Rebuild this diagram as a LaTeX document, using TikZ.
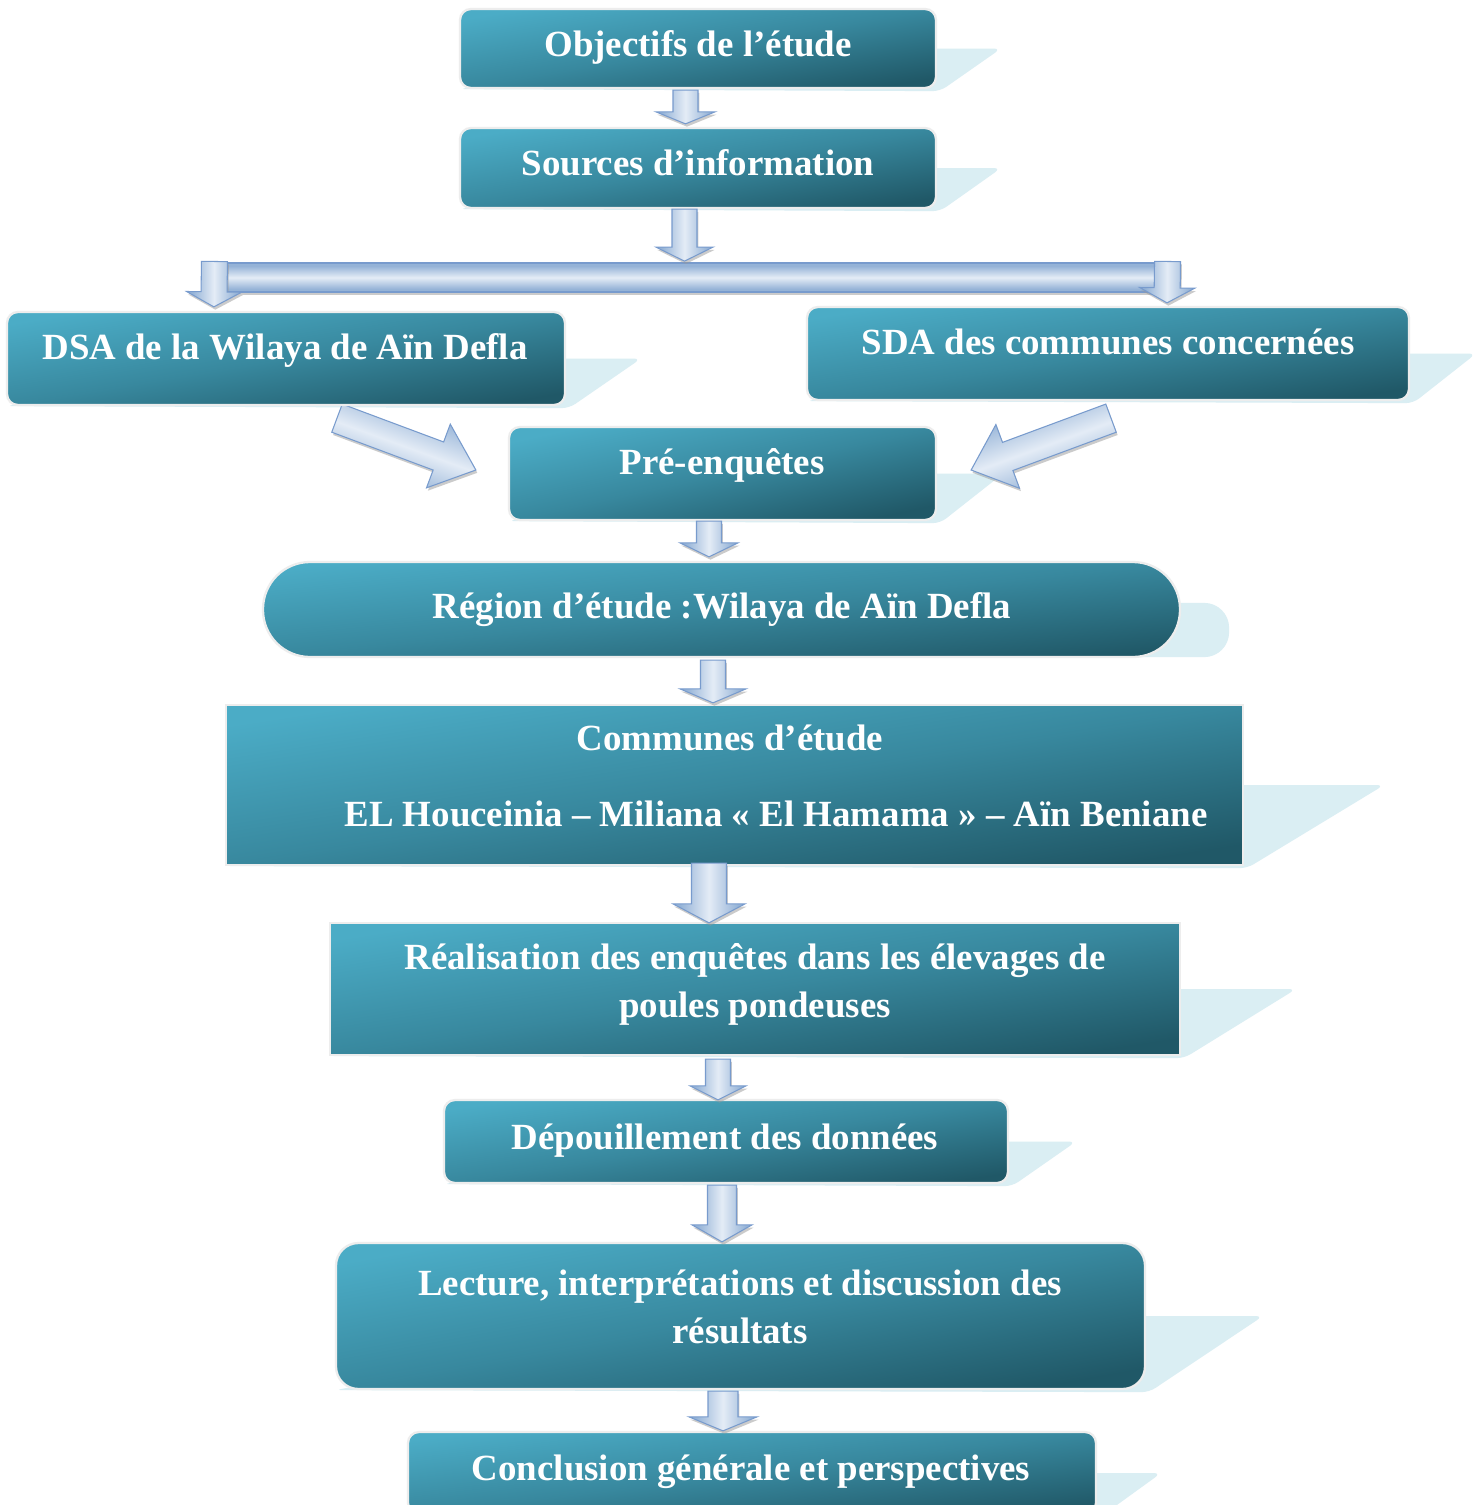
\documentclass[tikz,border=0pt]{standalone}
\usepackage{fontspec}
\setmainfont{Liberation Serif}
\usetikzlibrary{calc,shadows}
\definecolor{boxlight}{RGB}{75,172,198}
\definecolor{boxmid}{RGB}{56,136,158}
\definecolor{boxdark}{RGB}{32,88,103}
\definecolor{shadowc}{RGB}{218,238,243}
\definecolor{arredge}{RGB}{149,179,215}
\definecolor{arrlight}{RGB}{228,236,246}
\definecolor{arrline}{RGB}{120,155,205}
\pgfdeclareverticalshading{boxshade}{100bp}{color(0bp)=(boxdark); color(25bp)=(boxdark); color(50bp)=(boxmid); color(75bp)=(boxlight); color(100bp)=(boxlight)}
\pgfdeclareverticalshading{arrshade}{100bp}{color(0bp)=(arredge); color(30bp)=(arredge); color(50bp)=(arrlight); color(70bp)=(arredge); color(100bp)=(arredge)}
\pgfdeclarelayer{paper}
\pgfdeclarelayer{bg}
\pgfdeclarelayer{mid}
\pgfsetlayers{paper,bg,mid,main}
\begin{document}
\begin{tikzpicture}[x=0.02cm,y=-0.02cm,
  box/.style 2 args={draw=black!7, line width=1.3pt, shade, shading=boxshade, minimum width=#1*0.02cm, minimum height=#2*0.02cm, inner sep=0pt, rounded corners=0.22cm},
  tx/.style={text=white, font=\bfseries\fontsize{21}{27.3}\selectfont, inner sep=0pt, anchor=base},
  shd/.style={fill=shadowc, rounded corners=0.15cm},
  bw/.store in=\bw, bW/.store in=\bW, bh/.store in=\bh,
  bw=0.25cm, bW=0.58cm, bh=0.28cm,
  arrfill/.style={draw=arrline, line width=0.6pt, shade, shading=arrshade, shading angle=90},
  arrshadow/.style={drop shadow={shadow xshift=0.8pt, shadow yshift=-1.6pt, fill=black!40, opacity=0.5}},
  barrow/.style={arrfill, arrshadow, to path={
    ($(\tikztostart)!\bw!90:(\tikztotarget)$)
    -- ($(\tikztotarget)!\bh!(\tikztostart)!\bw!-90:(\tikztostart)$)
    -- ($(\tikztotarget)!\bh!(\tikztostart)!\bW!-90:(\tikztostart)$)
    -- (\tikztotarget)
    -- ($(\tikztotarget)!\bh!(\tikztostart)!\bW!90:(\tikztostart)$)
    -- ($(\tikztotarget)!\bh!(\tikztostart)!\bw!90:(\tikztostart)$)
    -- ($(\tikztostart)!\bw!-90:(\tikztotarget)$)
    -- cycle}}
]
\useasboundingbox (0,0) rectangle (1475,1505);
\begin{pgfonlayer}{paper}
\fill[white] (0,0) rectangle (1475,1505);
\end{pgfonlayer}

% boxes
\node[box={476}{79}, shading angle=9.4] (obj) at (698,48.5) {};
\node[box={476}{80}, shading angle=9.5] (src) at (698,168) {};
\node[box={558}{93}, shading angle=9.5] (dsa) at (286,358.5) {};
\node[box={602}{93}, shading angle=8.8] (sda) at (1108,353.5) {};
\node[box={427}{93}, shading angle=12.3] (pre) at (722.5,473.5) {};
\node[box={917}{95}, shading angle=5.9, rounded corners=0.94cm] (reg) at (721.5,609.5) {};
\node[box={1017}{160}, shading angle=8.9, rounded corners=0pt] (com) at (734.5,785) {};
\node[box={850}{132}, shading angle=8.8, rounded corners=0pt] (real) at (755,989) {};
\node[box={564}{83}, shading angle=8.4] (dep) at (726,1141.5) {};
\node[box={809}{146}, shading angle=10.2, rounded corners=0.45cm] (lec) at (740.5,1316) {};
\node[box={688}{82}, shading angle=6.8] (con) at (752,1473) {};

% texts
\node[tx] (tobj) at (698,56) {Objectifs de l’étude};
\node[tx] (tsrc) at (698,175) {Sources d’information};
\node[tx] (tdsa) at (285,359) {DSA de la Wilaya de Aïn Defla};
\node[tx] (tsda) at (1108,354) {SDA des communes concernées};
\node[tx] (tpre) at (722,474) {Pré-enquêtes};
\node[tx] (treg) at (722,618) {Région d’étude :Wilaya de Aïn Defla};
\node[tx] (tcom1) at (730,750) {Communes d’étude};
\node[tx] (tcom2) at (776,826) {EL Houceinia – Miliana « El Hamama » – Aïn Beniane};
\node[tx] (treal1) at (755,969) {Réalisation des enquêtes dans les élevages de};
\node[tx] (treal2) at (755,1017) {poules pondeuses};
\node[tx] (tdep) at (725,1149) {Dépouillement des données};
\node[tx] (tlec1) at (740,1295) {Lecture, interprétations et discussion des};
\node[tx] (tlec2) at (740,1343) {résultats};
\node[tx] (tcon) at (751,1480) {Conclusion générale et perspectives};

% shadows
\begin{pgfonlayer}{bg}
\foreach \n/\d in {obj/64,src/64,dsa/75,sda/66,pre/66,com/140,real/115,dep/67,lec/117,con/64}{
  \fill[shd] (\n.center) -- ($(\n.east)+(\d,0)$) -- ($(\n.south east)+(3,2)$) -- (\n.south west) -- cycle;
}
\fill[shadowc, rounded corners=0.5cm] ($(reg.north west)+(27,42)$) rectangle ($(reg.south east)+(48,-1)$);
\end{pgfonlayer}

% coordinates for connectors
\coordinate (a1s) at ($(obj.south)+(-12.5,1)$);
\coordinate (a1e) at ($(src.north)+(-12.5,-3)$);
\coordinate (a2s) at ($(src.south)+(-13.5,0)$);
\coordinate (a2e) at ($(src.south)+(-13.5,52)$);
\node[arrfill, shading angle=0, arrshadow, minimum width=952*0.02cm, minimum height=29*0.02cm, inner sep=0pt] (bar) at (691,277.5) {};
\coordinate (bls) at ($(bar.north west)+(0,-1)$);
\coordinate (ble) at ($(dsa.north west)+(208,-4)$);
\coordinate (brs) at ($(bar.north east)+(0,-1)$);
\coordinate (bre) at ($(sda.north)+(59,-3)$);
\coordinate (dgs) at ($(dsa.south)+(51,12)$);
\coordinate (dge) at ($(pre.west)+(-32,-3.5)$);
\coordinate (sgs) at ($(sda.south)+(3,17)$);
\coordinate (sge) at ($(pre.east)+(34,-3.5)$);
\coordinate (a3s) at ($(pre.south)+(-13.5,0)$);
\coordinate (a3e) at ($(reg.north)+(-12.5,-4)$);
\coordinate (a4s) at ($(reg.south)+(-8.5,2)$);
\coordinate (a4e) at ($(com.north)+(-21.5,-1)$);
\coordinate (a5s) at ($(com.south)+(-25.5,-3)$);
\coordinate (a5e) at ($(real.north)+(-46,1)$);
\coordinate (a6s) at ($(real.south)+(-37,3)$);
\coordinate (a6e) at ($(dep.north)+(-8,1)$);
\coordinate (a7s) at ($(dep.south)+(-4,1)$);
\coordinate (a7e) at ($(lec.north)+(-18.5,0)$);
\coordinate (a8s) at ($(lec.south)+(-17.5,1)$);
\coordinate (a8e) at ($(con.north)+(-29,0)$);

% connectors
\draw[barrow, bh=0.24cm, bW=0.59cm] (a1s) to (a1e);
\draw[barrow, bW=0.57cm] (a2s) to (a2e);
\draw[barrow, bw=0.26cm, bW=0.55cm, bh=0.3cm] (bls) to (ble);
\draw[barrow, bw=0.26cm, bW=0.55cm, bh=0.3cm] (brs) to (bre);
\begin{pgfonlayer}{mid}
\draw[barrow, bw=0.3cm, bW=0.68cm, bh=0.8cm, shading angle=-20] (dgs) to (dge);
\draw[barrow, bw=0.3cm, bW=0.68cm, bh=0.78cm, shading angle=20] (sgs) to (sge);
\end{pgfonlayer}
\draw[barrow, bW=0.58cm] (a3s) to (a3e);
\draw[barrow, bW=0.66cm] (a4s) to (a4e);
\draw[barrow, bw=0.35cm, bW=0.72cm, bh=0.38cm] (a5s) to (a5e);
\draw[barrow, bW=0.56cm] (a6s) to (a6e);
\draw[barrow, bw=0.29cm, bW=0.6cm, bh=0.34cm] (a7s) to (a7e);
\draw[barrow, bw=0.3cm, bW=0.68cm, bh=0.28cm] (a8s) to (a8e);
\end{tikzpicture}
\end{document}
